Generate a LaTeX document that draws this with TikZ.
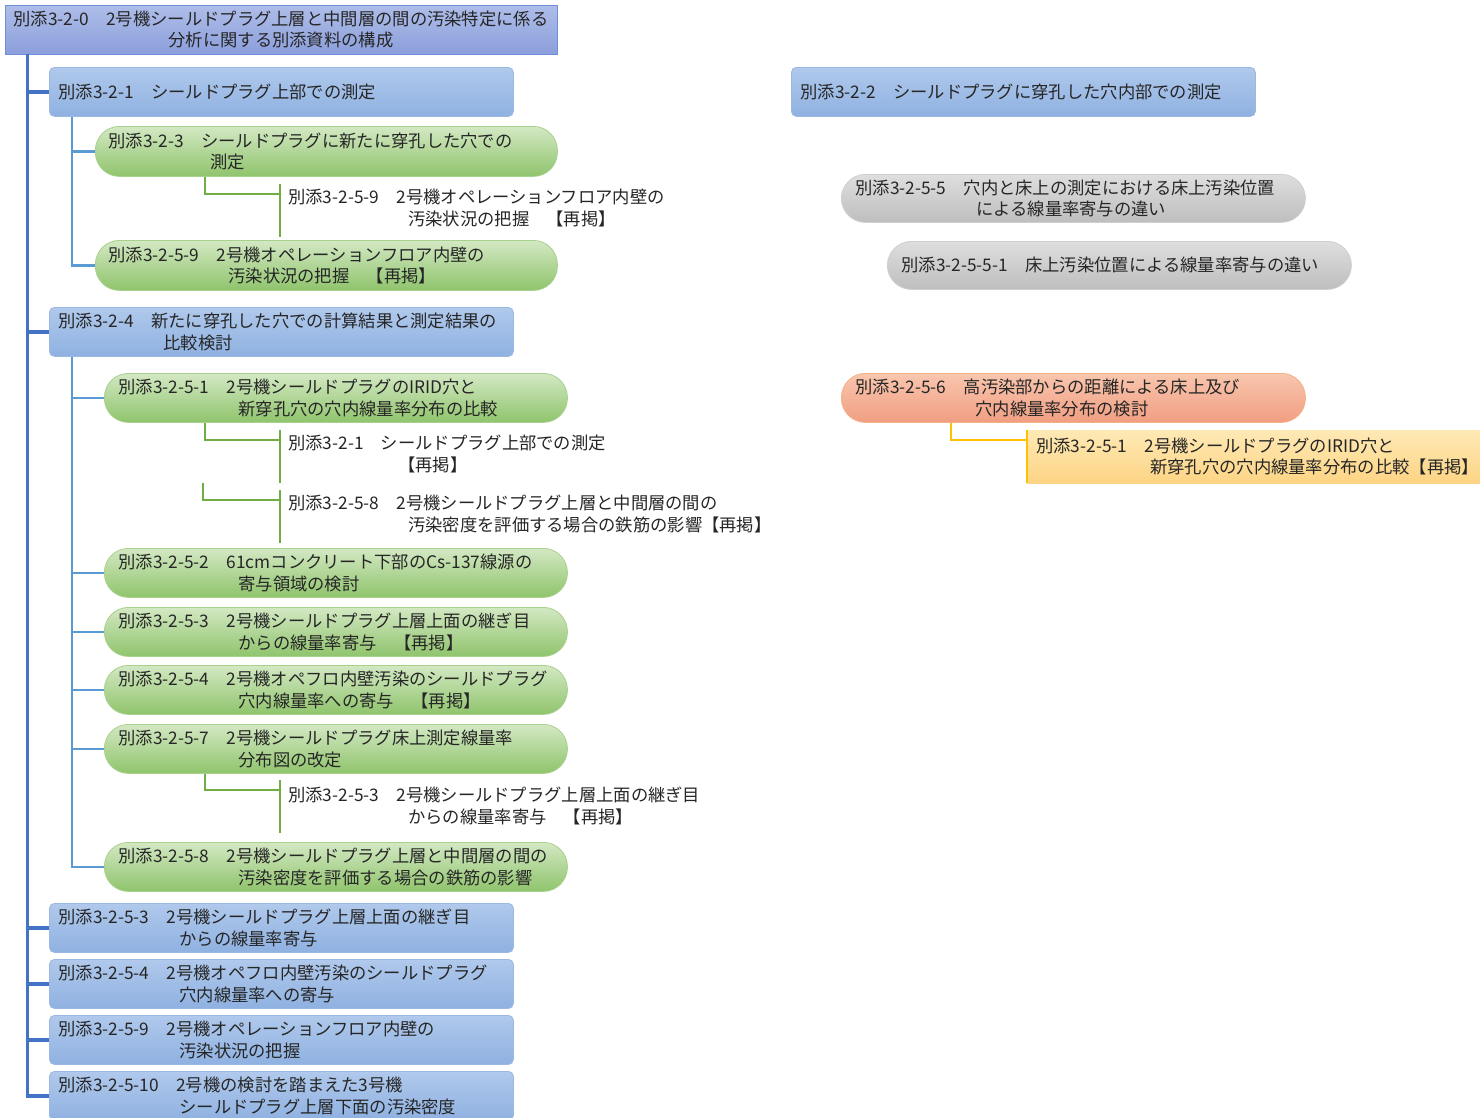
\documentclass[tikz,border=0pt]{standalone}
\usepackage{fontspec}
\setmainfont{Noto Sans CJK JP}
\definecolor{txt}{HTML}{262626}
\definecolor{hdrtop}{HTML}{AEBDE8}
\definecolor{hdrbot}{HTML}{8C9FDC}
\definecolor{hdredge}{HTML}{6F8FD8}
\definecolor{bluetop}{HTML}{B0C9EC}
\definecolor{bluebot}{HTML}{8FB1E1}
\definecolor{blueedge}{HTML}{9AB8E2}
\definecolor{greentop}{HTML}{D3E8C3}
\definecolor{greenbot}{HTML}{8FC46C}
\definecolor{greenedge}{HTML}{A9D18E}
\definecolor{graytop}{HTML}{DEDEDE}
\definecolor{graybot}{HTML}{BEBEBE}
\definecolor{grayedge}{HTML}{CFCFCF}
\definecolor{orangetop}{HTML}{F8C6AE}
\definecolor{orangebot}{HTML}{F19E82}
\definecolor{orangeedge}{HTML}{F4B183}
\definecolor{yellowtop}{HTML}{FEE9B5}
\definecolor{yellowbot}{HTML}{FDD484}
\definecolor{mainblue}{HTML}{4472C4}
\definecolor{subblue}{HTML}{5B9BD5}
\definecolor{greenline}{HTML}{70AD47}
\definecolor{yellowline}{HTML}{FFC000}
\begin{document}
\begin{tikzpicture}[x=1pt,y=-1pt,
  every node/.style={font=\fontsize{17.3}{21.5}\selectfont, text=txt},
  hdrbox/.style={rectangle, draw=hdredge, line width=0.8pt, top color=hdrtop, bottom color=hdrbot,
    minimum width=552pt, minimum height=49pt, inner sep=0pt, align=center},
  bluebox/.style={anchor=north west, rectangle, rounded corners=5pt, draw=blueedge, line width=0.8pt,
    top color=bluetop, bottom color=bluebot, minimum height=49pt, inner xsep=9pt, inner ysep=0pt,
    text width=446pt, align=left},
  greenbox/.style={anchor=north west, rectangle, rounded corners=24pt, draw=greenedge, line width=0.8pt,
    top color=greentop, bottom color=greenbot, minimum height=49pt, inner xsep=14pt, inner ysep=0pt,
    text width=435pt, align=left},
  graybox/.style={anchor=north west, rectangle, rounded corners=24pt, draw=grayedge, line width=0.8pt,
    top color=graytop, bottom color=graybot, minimum height=48pt, inner xsep=14pt, inner ysep=0pt,
    text width=436pt, align=left},
  orangebox/.style={anchor=north west, rectangle, rounded corners=24pt, draw=orangeedge, line width=0.8pt,
    top color=orangetop, bottom color=orangebot, minimum height=49pt, inner xsep=14pt, inner ysep=0pt,
    text width=436pt, align=left},
  yellowbox/.style={anchor=north west, rectangle, top color=yellowtop, bottom color=yellowbot,
    minimum height=53pt, inner xsep=9pt, inner ysep=0pt, text width=435pt, align=left},
  reftext/.style={anchor=west, inner sep=0pt, align=left},
  mainline/.style={draw=mainblue, line width=3.2pt},
  subline/.style={draw=subblue, line width=2.8pt},
  grline/.style={draw=greenline, line width=2.6pt},
  yline/.style={draw=yellowline, line width=2.8pt}
]
\useasboundingbox (0,0) rectangle (1480,1117);
\fill[white] (0,0) rectangle (1480,1117);

% header
\node[hdrbox] (hdr) at (281,29.5) {別添3-2-0　2号機シールドプラグ上層と中間層の間の汚染特定に係る\\分析に関する別添資料の構成};

% left column, level 1
\node[bluebox] (b321) at (49,67) {別添3-2-1　シールドプラグ上部での測定};
\node[bluebox] (b324) at (49,307) {別添3-2-4　新たに穿孔した穴での計算結果と測定結果の\\\hspace*{105pt}比較検討};
\node[bluebox] (b2553) at (49,903) {別添3-2-5-3　2号機シールドプラグ上層上面の継ぎ目\\\hspace*{121pt}からの線量率寄与};
\node[bluebox] (b2554) at (49,959) {別添3-2-5-4　2号機オペフロ内壁汚染のシールドプラグ\\\hspace*{121pt}穴内線量率への寄与};
\node[bluebox] (b2559) at (49,1015) {別添3-2-5-9　2号機オペレーションフロア内壁の\\\hspace*{121pt}汚染状況の把握};
\node[bluebox] (b25510) at (49,1071) {別添3-2-5-10　2号機の検討を踏まえた3号機\\\hspace*{121pt}シールドプラグ上層下面の汚染密度};

% under 3-2-1
\node[greenbox, minimum height=50pt, inner xsep=13pt, text width=436pt] (g323) at (95,126) {別添3-2-3　シールドプラグに新たに穿孔した穴での\\\hspace*{102pt}測定};
\node[greenbox, minimum height=50pt, inner xsep=13pt, text width=436pt] (g2559) at (95,240) {別添3-2-5-9　2号機オペレーションフロア内壁の\\\hspace*{120pt}汚染状況の把握　【再掲】};
\node[reftext] (r1) at (288,208) {別添3-2-5-9　2号機オペレーションフロア内壁の\\\hspace*{120pt}汚染状況の把握　【再掲】};

% under 3-2-4
\node[greenbox] (g2551) at (104,373) {別添3-2-5-1　2号機シールドプラグのIRID穴と\\\hspace*{120pt}新穿孔穴の穴内線量率分布の比較};
\node[reftext] (r2) at (288,454) {別添3-2-1　シールドプラグ上部での測定\\\hspace*{110pt}【再掲】};
\node[reftext] (r3) at (288,514) {別添3-2-5-8　2号機シールドプラグ上層と中間層の間の\\\hspace*{120pt}汚染密度を評価する場合の鉄筋の影響【再掲】};
\node[greenbox] (g2552) at (104,548) {別添3-2-5-2　61cmコンクリート下部のCs-137線源の\\\hspace*{120pt}寄与領域の検討};
\node[greenbox] (g2553) at (104,607) {別添3-2-5-3　2号機シールドプラグ上層上面の継ぎ目\\\hspace*{120pt}からの線量率寄与　【再掲】};
\node[greenbox] (g2554) at (104,665) {別添3-2-5-4　2号機オペフロ内壁汚染のシールドプラグ\\\hspace*{120pt}穴内線量率への寄与　【再掲】};
\node[greenbox] (g2557) at (104,724) {別添3-2-5-7　2号機シールドプラグ床上測定線量率\\\hspace*{120pt}分布図の改定};
\node[reftext] (r4) at (288,806) {別添3-2-5-3　2号機シールドプラグ上層上面の継ぎ目\\\hspace*{120pt}からの線量率寄与　【再掲】};
\node[greenbox] (g2558) at (104,842) {別添3-2-5-8　2号機シールドプラグ上層と中間層の間の\\\hspace*{120pt}汚染密度を評価する場合の鉄筋の影響};

% right column
\node[bluebox] (b322) at (791,67) {別添3-2-2　シールドプラグに穿孔した穴内部での測定};
\node[graybox] (gy1) at (841,174) {別添3-2-5-5　穴内と床上の測定における床上汚染位置\\\hspace*{121pt}による線量率寄与の違い};
\node[graybox] (gy2) at (887,241) {別添3-2-5-5-1　床上汚染位置による線量率寄与の違い};
\node[orangebox] (or) at (841,373) {別添3-2-5-6　高汚染部からの距離による床上及び\\\hspace*{120pt}穴内線量率分布の検討};
\node[yellowbox] (yb) at (1027,430) {別添3-2-5-1　2号機シールドプラグのIRID穴と\\\hspace*{114pt}新穿孔穴の穴内線量率分布の比較【再掲】};

% main connectors
\foreach \c in {b321,b324,b2553,b2554,b2559,b25510}
  \draw[mainline] ([xshift=23pt]hdr.south west) |- (\c.west);

% sub connectors
\foreach \c in {g323,g2559}
  \draw[subline] ([xshift=23pt]b321.south west) |- (\c.west);
\foreach \c in {g2551,g2552,g2553,g2554,g2557,g2558}
  \draw[subline] ([xshift=23pt]b324.south west) |- (\c.west);

% green brackets
\coordinate (r1j) at (280,194);
\coordinate (r1t) at (280,184);
\coordinate (r1b) at (280,237);
\draw[grline] ([xshift=110pt]g323.south west) |- (r1j);
\draw[grline] (r1t) -- (r1b);

\coordinate (r2j) at (280,440);
\coordinate (r2t) at (280,430);
\coordinate (r2b) at (280,483);
\draw[grline] ([xshift=101pt]g2551.south west) |- (r2j);
\draw[grline] (r2t) -- (r2b);

\coordinate (r3s) at (203,483);
\coordinate (r3j) at (280,500);
\coordinate (r3t) at (280,490);
\coordinate (r3b) at (280,543);
\draw[grline] (r3s) |- (r3j);
\draw[grline] (r3t) -- (r3b);

\coordinate (r4j) at (280,790);
\coordinate (r4t) at (280,780);
\coordinate (r4b) at (280,833);
\draw[grline] ([xshift=101pt]g2557.south west) |- (r4j);
\draw[grline] (r4t) -- (r4b);

% yellow connector
\draw[yline] ([xshift=110pt]or.south west) |- ([yshift=-10pt]yb.north west);
\draw[yline] (yb.north west) -- (yb.south west);
\end{tikzpicture}
\end{document}
